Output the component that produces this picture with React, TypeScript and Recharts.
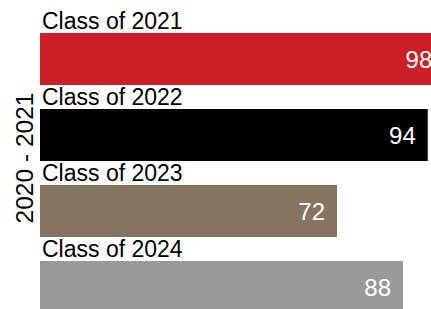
import { BarChart, Bar, XAxis, YAxis, Cell, LabelList } from 'recharts';

const classes = ['Class of 2021', 'Class of 2022', 'Class of 2023', 'Class of 2024'];
const scores = [98, 94, 72, 88];
const colors = ['#cc2028', '#000000', '#85745f', '#999999'];
const yearLabel = '2020 - 2021';

const data = classes.map((name, i) => ({ name, value: scores[i] }));

const FONT = '"Liberation Sans", Arial, Helvetica, sans-serif';

function ClassLabel(props: any) {
  const { x, y, value } = props;
  return (
    <text x={x + 2} y={y - 4} fontSize={23} fontFamily={FONT} fill="#000">
      {value}
    </text>
  );
}

function YearLabel(props: any) {
  const { viewBox } = props;
  const cx = viewBox.x + 33;
  const cy = viewBox.y + viewBox.height / 2 - 15;
  return (
    <text
      x={cx}
      y={cy}
      transform={`rotate(-90 ${cx} ${cy})`}
      textAnchor="middle"
      fontSize={24.5}
      fontFamily={FONT}
      fill="#000"
    >
      {yearLabel}
    </text>
  );
}

export default function App() {
  return (
    <div
      style={{
        position: 'fixed',
        top: 0,
        left: 0,
        width: 431,
        height: 309,
        overflow: 'hidden',
        background: '#fff',
      }}
    >
      <BarChart
        width={460}
        height={340}
        data={data}
        layout="vertical"
        margin={{ top: 21, right: 7.5, left: 0, bottom: 15 }}
        barSize={52}
      >
        <XAxis type="number" domain={[0, 100]} hide />
        <YAxis
          type="category"
          dataKey="name"
          width={40}
          tick={false}
          tickLine={false}
          axisLine={false}
          label={<YearLabel />}
        />
        <Bar dataKey="value" isAnimationActive={false}>
          {data.map((d, i) => (
            <Cell key={d.name} fill={colors[i]} />
          ))}
          <LabelList dataKey="name" content={<ClassLabel />} />
          <LabelList
            dataKey="value"
            position="insideRight"
            offset={12}
            fill="#fff"
            fontSize={24}
            fontFamily={FONT}
          />
        </Bar>
      </BarChart>
    </div>
  );
}
